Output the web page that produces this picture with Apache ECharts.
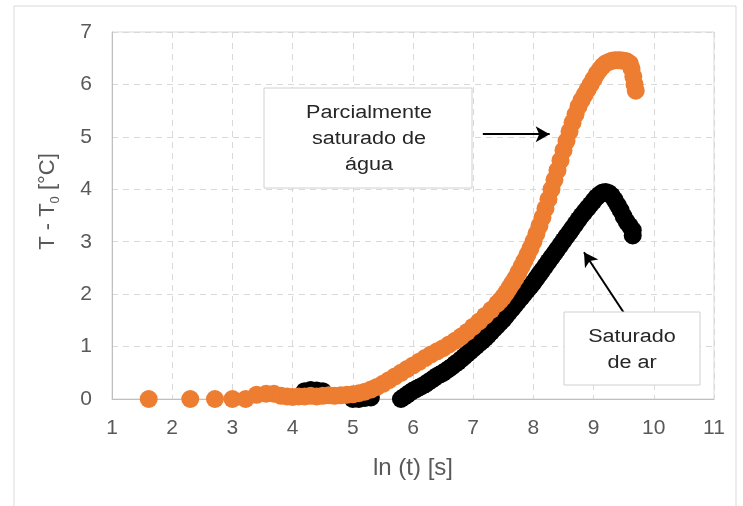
<!DOCTYPE html>
<html><head><meta charset="utf-8">
<script src="https://cdn.jsdelivr.net/npm/echarts@6/dist/echarts.min.js"></script>
<style>html,body{margin:0;padding:0;background:#fff}#c{width:743px;height:506px}</style>
</head><body><div id="c"></div>
<script>
// Saturado de ar (black)
const arX = [3.40,3.55,3.75,4.2,4.3,4.4,4.5,5.0,5.1,5.2,5.3,5.75,5.8,5.85,5.9,5.95,6.0,6.05,6.1,6.15,6.2,6.25,6.3,6.35,6.4,6.45,6.5,6.55,6.6,6.65,6.7,6.75,6.8,6.85,6.9,6.95,7.0,7.05,7.1,7.15,7.2,7.25,7.3,7.35,7.4,7.45,7.5,7.55,7.6,7.65,7.7,7.75,7.8,7.85,7.9,7.95,8.0,8.05,8.1,8.15,8.2,8.25,8.3,8.35,8.4,8.45,8.5,8.55,8.6,8.65,8.7,8.75,8.8,8.85,8.9,8.95,9.0,9.05,9.1,9.15,9.2,9.25,9.3,9.35,9.4,9.45,9.5,9.55,9.6,9.65,9.65];
const arY = [-0.03,-0.03,-0.03,0.15,0.17,0.16,0.15,0.0,0.0,0.02,0.03,-0.02,0.0,0.04,0.08,0.12,0.16,0.19,0.22,0.25,0.28,0.32,0.36,0.4,0.44,0.47,0.5,0.54,0.58,0.62,0.67,0.71,0.76,0.81,0.86,0.91,0.96,1.01,1.06,1.11,1.16,1.22,1.28,1.34,1.4,1.46,1.52,1.59,1.66,1.73,1.8,1.87,1.94,2.01,2.08,2.15,2.22,2.3,2.38,2.46,2.54,2.62,2.7,2.78,2.86,2.94,3.02,3.1,3.18,3.26,3.34,3.42,3.5,3.57,3.64,3.71,3.78,3.85,3.9,3.94,3.95,3.93,3.88,3.8,3.7,3.6,3.48,3.38,3.3,3.22,3.12];
// Parcialmente saturado de água (orange)
const aguaX = [1.61,2.30,2.71,3.0,3.22,3.40,3.56,3.69,3.81,3.91,4.0,4.1,4.2,4.3,4.4,4.5,4.6,4.7,4.8,4.9,5.0,5.1,5.2,5.3,5.4,5.5,5.6,5.7,5.8,5.9,6.0,6.1,6.2,6.3,6.4,6.5,6.6,6.7,6.8,6.9,7.0,7.1,7.2,7.3,7.4,7.45,7.5,7.55,7.6,7.65,7.7,7.75,7.8,7.85,7.9,7.95,8.0,8.05,8.1,8.15,8.2,8.25,8.3,8.35,8.4,8.45,8.5,8.55,8.6,8.65,8.7,8.75,8.8,8.85,8.9,8.95,9.0,9.05,9.1,9.15,9.2,9.25,9.3,9.35,9.4,9.45,9.5,9.55,9.6,9.63,9.66,9.68,9.7];
const aguaY = [0,0,0,0,0,0.08,0.1,0.1,0.06,0.05,0.04,0.05,0.05,0.06,0.05,0.06,0.07,0.06,0.07,0.08,0.09,0.11,0.14,0.18,0.23,0.29,0.36,0.43,0.5,0.57,0.64,0.71,0.78,0.85,0.91,0.97,1.04,1.11,1.19,1.28,1.38,1.48,1.59,1.7,1.82,1.88,1.95,2.03,2.12,2.21,2.3,2.41,2.52,2.63,2.75,2.87,3.0,3.15,3.3,3.46,3.63,3.81,4.0,4.18,4.36,4.55,4.74,4.92,5.1,5.27,5.43,5.58,5.7,5.8,5.9,6.0,6.1,6.2,6.28,6.35,6.4,6.43,6.45,6.46,6.46,6.46,6.45,6.44,6.4,6.3,6.15,6.0,5.88];
const xTicks = [1,2,3,4,5,6,7,8,9,10,11];
const yTicks = [0,1,2,3,4,5,6,7];

const zip = (xs, ys) => xs.map((x, i) => [x, ys[i]]);
const chart = echarts.init(document.getElementById('c'), null, {renderer: 'canvas'});
const FONT = '"Liberation Sans", Arial, sans-serif';
const grey = '#595959';
chart.setOption({
  animation: false,
  backgroundColor: '#fff',
  grid: {left: 112, right: 29, top: 32, bottom: 107, show: true, borderColor: '#d9d9d9', borderWidth: 1},
  xAxis: {
    type: 'value', min: xTicks[0], max: xTicks[xTicks.length - 1], interval: 1,
    name: 'ln (t) [s]', nameLocation: 'middle', nameGap: 57,
    nameTextStyle: {fontFamily: FONT, fontSize: 24, color: grey},
    axisLine: {show: true, lineStyle: {color: '#bfbfbf'}},
    axisTick: {show: false},
    axisLabel: {fontFamily: FONT, fontSize: 21, color: grey, margin: 19},
    splitLine: {show: true, lineStyle: {color: '#d9d9d9', type: [6, 5]}}
  },
  yAxis: {
    type: 'value', min: yTicks[0], max: yTicks[yTicks.length - 1], interval: 1,
    name: '{a|T - T}{s|0}{a| [°C]}', nameLocation: 'middle', nameGap: 50, nameRotate: 90,
    nameTextStyle: {fontFamily: FONT, fontSize: 22, color: grey, padding: [0, 0, 0, 28],
      rich: {a: {fontFamily: FONT, fontSize: 22, color: grey, lineHeight: 28, verticalAlign: 'middle'},
             s: {fontFamily: FONT, fontSize: 13, color: grey, lineHeight: 28, verticalAlign: 'bottom'}}},
    axisLine: {show: true, lineStyle: {color: '#bfbfbf'}},
    axisTick: {show: false},
    axisLabel: {fontFamily: FONT, fontSize: 21, color: grey, margin: 20},
    splitLine: {show: true, lineStyle: {color: '#d9d9d9', type: [6, 5]}}
  },
  series: [
    {name: 'Saturado de ar', type: 'scatter', data: zip(arX, arY), symbolSize: 18,
     itemStyle: {color: '#000000', opacity: 1}, z: 2},
    {name: 'Parcialmente saturado de água', type: 'scatter', data: zip(aguaX, aguaY), symbolSize: 18,
     itemStyle: {color: '#ED7D31', opacity: 1}, z: 3,
     markLine: {silent: true, symbol: ['none', 'arrow'], symbolSize: [12, 14], label: {show: false},
       lineStyle: {color: '#000', width: 2, type: 'solid'},
       data: [
         [{coord: [7.16, 5.05]}, {coord: [8.27, 5.05]}],
         [{coord: [9.5, 1.65]}, {coord: [8.84, 2.8]}]
       ]}}
  ],
  graphic: [
    {type: 'rect', shape: {x: 14, y: 6, width: 722, height: 520}, style: {fill: 'none', stroke: '#d9d9d9', lineWidth: 1}, z: 0, silent: true},
    {type: 'rect', shape: {x: 264, y: 88, width: 208, height: 100}, style: {fill: '#fff', stroke: '#d0d0d0', lineWidth: 1}, z: 10},
    {type: 'text', x: 369, y: 139, scaleX: 1.2, style: {text: 'Parcialmente\nsaturado de\nágua', font: '18px ' + FONT, fill: '#262626', align: 'center', verticalAlign: 'middle', lineHeight: 26}, z: 11},
    {type: 'rect', shape: {x: 564, y: 312, width: 136, height: 73}, style: {fill: '#fff', stroke: '#d0d0d0', lineWidth: 1}, z: 10},
    {type: 'text', x: 632, y: 350, scaleX: 1.2, style: {text: 'Saturado\nde ar', font: '18px ' + FONT, fill: '#262626', align: 'center', verticalAlign: 'middle', lineHeight: 26}, z: 11}
  ]
});
</script></body></html>
